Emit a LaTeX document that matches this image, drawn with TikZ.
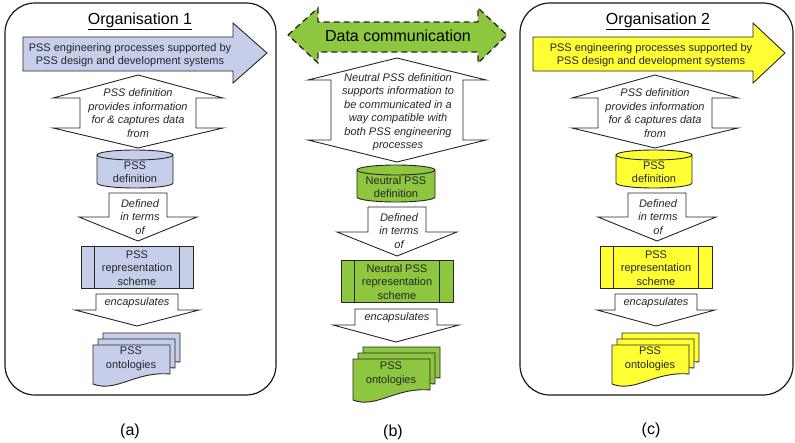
\documentclass[tikz,border=0pt]{standalone}
\usepackage{fontspec}
\setmainfont{Liberation Sans}
\usepackage{tikz}
\usetikzlibrary{arrows.meta}
\usetikzlibrary{calc,positioning}

\definecolor{orgblue}{HTML}{C6CEEA}
\definecolor{neutralgreen}{HTML}{8DC63F}
\definecolor{orgyellow}{HTML}{FFFF33}

% block arrow pointing down: cx, top, head base, tip, body half, head half
\newcommand{\blockdown}[6]{%
  \draw[blockarrow] (#1-#5,#2) -- (#1+#5,#2) -- (#1+#5,#3) -- (#1+#6,#3) -- (#1,#4)
    -- (#1-#6,#3) -- (#1-#5,#3) -- cycle;}
% block arrow pointing up and down: cx, top tip, upper base, lower base, bottom tip, body half, head half
\newcommand{\blockupdown}[7]{%
  \draw[blockarrow] (#1,#2) -- (#1+#7,#3) -- (#1+#6,#3) -- (#1+#6,#4) -- (#1+#7,#4) -- (#1,#5)
    -- (#1-#7,#4) -- (#1-#6,#4) -- (#1-#6,#3) -- (#1-#7,#3) -- cycle;}
% cylinder: cx, half width, top, bottom, fill
\newcommand{\drum}[5]{%
  \draw[shapeline, fill=#5] (#1-#2,#3) -- (#1-#2,#4) arc[start angle=180, end angle=0, x radius=#2, y radius=5] -- (#1+#2,#3);
  \draw[shapeline, fill=#5] (#1,#3) ellipse [x radius=#2, y radius=5];}
% one document sheet: left, top, width, height, fill
\newcommand{\sheet}[5]{%
  \draw[shapeline, fill=#5] (#1,#2) -- (#1+#3,#2) -- (#1+#3,#2+#4-10)
    .. controls (#1+0.55*#3,#2+#4-13) and (#1+0.3*#3,#2+#4+9) .. (#1,#2+#4) -- cycle;}
% stack of three sheets
\newcommand{\sheets}[5]{%
  \sheet{#1+10}{#2-12}{#3}{#4}{#5}
  \sheet{#1+5}{#2-6}{#3}{#4}{#5}
  \sheet{#1}{#2}{#3}{#4}{#5}}
% predefined process box: cx, cy, fill
\newcommand{\scheme}[3]{%
  \draw[shapeline, fill=#3] (#1-56,#2-21) rectangle (#1+56,#2+21);
  \draw[shapeline] (#1-43,#2-21) -- (#1-43,#2+21);
  \draw[shapeline] (#1+42,#2-21) -- (#1+42,#2+21);}

\tikzset{
  shapeline/.style={draw=black!85, line width=0.9pt},
  blockarrow/.style={shapeline, fill=white},
  orgbox/.style={draw=black!90, line width=1.2pt, rounded corners=30pt},
  txt/.style={inner sep=0pt, align=center, text=black!85, font=\fontsize{11}{13.5}\selectfont},
  note/.style={txt, font=\fontsize{11}{13.5}\selectfont\itshape},
  big/.style={inner sep=0pt, font=\fontsize{16}{19}\selectfont},
}

\begin{document}
\begin{tikzpicture}[x=1pt, y=-1pt]
  \useasboundingbox (0,0) rectangle (795,442);

  % (a) organisation 1
  \draw[orgbox] (5,3) rectangle (276,395);
  \node[big] (titleA) at (140,21) {\underline{Organisation 1}};
  \draw[shapeline, fill=orgblue] (23,37) -- (233,37) -- (233,23) -- (267,53) -- (233,83) -- (233,71) -- (23,71) -- cycle;
  \node[txt] (procA) at (130,55) {PSS engineering processes supported by\\PSS design and development systems};
  \blockupdown{138}{75}{98}{128}{148}{58}{85}
  \node[note] (infoA) at (138,113) {PSS definition\\provides information\\for \& captures data\\from};
  \drum{135}{38}{155}{183}{orgblue}
  \node[txt] (defA) at (135,172) {PSS\\definition};
  \blockdown{138}{193}{217}{241}{29}{59}
  \node[note] (termsA) at (140,217) {Defined\\in terms\\of};
  \scheme{137}{267}{orgblue}
  \node[txt] (schemeA) at (137,268) {PSS\\representation\\scheme};
  \blockdown{137}{294}{310}{326}{41}{62}
  \node[note] (encA) at (137,303) {encapsulates};
  \sheets{93}{345}{77}{39}{orgblue}
  \node[txt] (ontA) at (131,359) {PSS\\ontologies};
  \node[big] (capA) at (130,431) {(a)};

  % (b) neutral exchange
  \draw[shapeline, line width=1.3pt, dash pattern=on 6pt off 4pt, fill=neutralgreen]
    (288,35) -- (318,8) -- (318,22) -- (478,22) -- (478,8) -- (507,35) -- (478,63) -- (478,52) -- (318,52) -- (318,63) -- cycle;
  \node[big] (commB) at (398,36) {Data communication};
  \blockupdown{397}{58}{80}{140}{162}{66}{89}
  \node[note] (infoB) at (398,112) {Neutral PSS definition\\supports information to\\be communicated in a\\way compatible with\\both PSS engineering\\processes};
  \drum{396}{39}{170}{197}{neutralgreen}
  \node[txt] (defB) at (396,187) {Neutral PSS\\definition};
  \blockdown{397}{207}{232}{256}{29}{60}
  \node[note] (termsB) at (399,231) {Defined\\in terms\\of};
  \scheme{397}{281}{neutralgreen}
  \node[txt] (schemeB) at (397,282) {Neutral PSS\\representation\\scheme};
  \blockdown{396}{309}{325}{342}{41}{63}
  \node[note] (encB) at (397,318) {encapsulates};
  \sheets{353}{359}{77}{41}{neutralgreen}
  \node[txt] (ontB) at (391,374) {PSS\\ontologies};
  \node[big] (capB) at (393,432) {(b)};

  % (c) organisation 2
  \draw[orgbox] (520,3) rectangle (793,395);
  \node[big] (titleC) at (658,21) {\underline{Organisation 2}};
  \draw[shapeline, fill=orgyellow] (533,37) -- (753,37) -- (753,23) -- (785,53) -- (753,83) -- (753,71) -- (533,71) -- cycle;
  \node[txt] (procC) at (651,55) {PSS engineering processes supported by\\PSS design and development systems};
  \blockupdown{655}{75}{98}{128}{148}{57}{83}
  \node[note] (infoC) at (655,113) {PSS definition\\provides information\\for \& captures data\\from};
  \drum{654}{38}{155}{183}{orgyellow}
  \node[txt] (defC) at (654,172) {PSS\\definition};
  \blockdown{657}{193}{217}{241}{29}{59}
  \node[note] (termsC) at (658,217) {Defined\\in terms\\of};
  \scheme{656}{267}{orgyellow}
  \node[txt] (schemeC) at (656,268) {PSS\\representation\\scheme};
  \blockdown{656}{294}{310}{326}{41}{59}
  \node[note] (encC) at (656,303) {encapsulates};
  \sheets{612}{345}{77}{39}{orgyellow}
  \node[txt] (ontC) at (650,359) {PSS\\ontologies};
  \node[big] (capC) at (651,430) {(c)};
\end{tikzpicture}
\end{document}
